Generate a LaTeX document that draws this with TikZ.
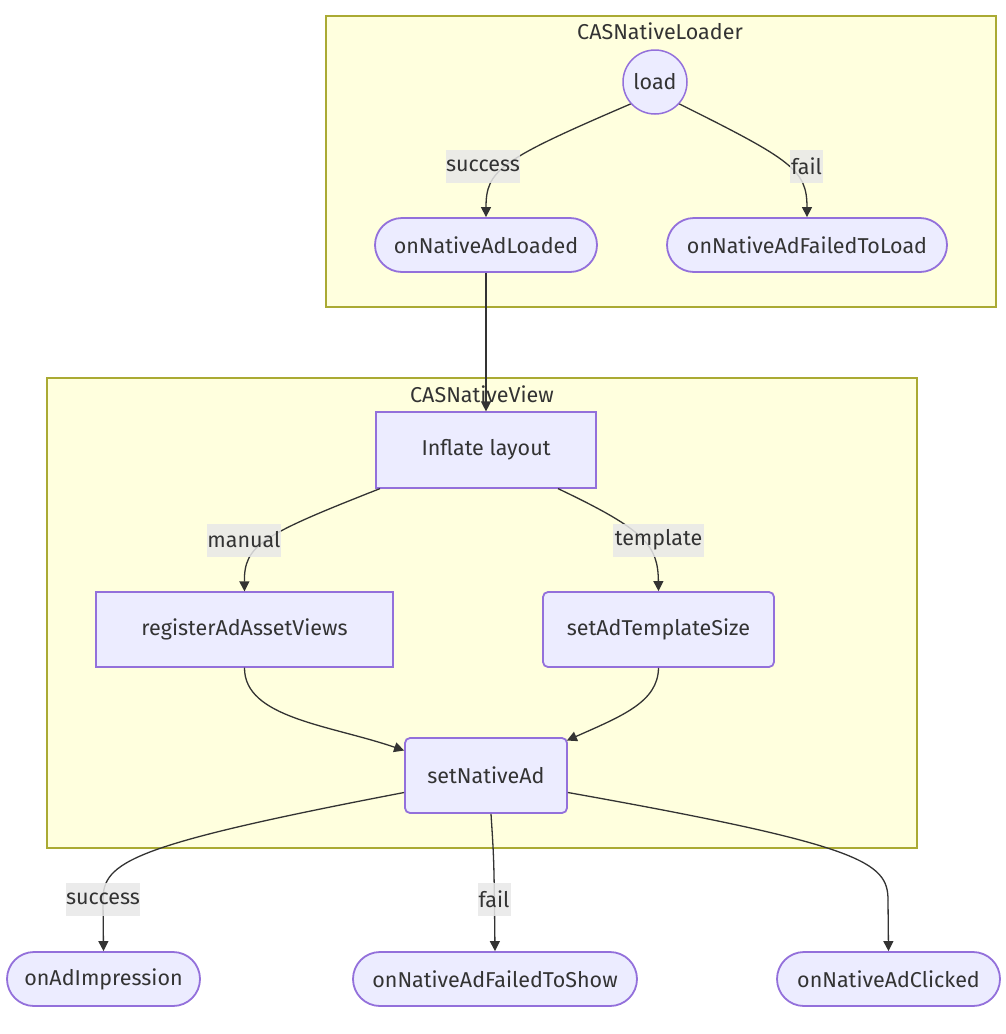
\documentclass[tikz,border=0pt]{standalone}
\usepackage{fontspec}
\setmainfont{Fira Sans}
\usetikzlibrary{arrows.meta}
\definecolor{clfill}{HTML}{FFFFDE}
\definecolor{cldraw}{HTML}{AAAA33}
\definecolor{ndfill}{HTML}{ECECFF}
\definecolor{nddraw}{HTML}{9370DB}
\definecolor{txt}{HTML}{333333}
\definecolor{lbl}{HTML}{E8E8E8}
\tikzset{
  cluster/.style={draw=cldraw, fill=clfill, line width=1.2pt},
  base/.style={draw=nddraw, fill=ndfill, text=txt, font=\fontsize{21.5}{24}\selectfont, inner sep=0pt},
  rectnode/.style={base, line width=1.2pt},
  roundnode/.style={base, line width=1.8pt, rounded corners=5pt},
  stadium/.style={base, line width=1.8pt, rounded corners=27pt, minimum height=54pt},
  circnode/.style={base, circle, line width=1.5pt, minimum size=64pt},
  ctitle/.style={text=txt, font=\fontsize{21.5}{24}\selectfont},
  elabel/.style={fill=lbl, fill opacity=0.85, text opacity=1, text=txt, font=\fontsize{21.5}{24}\selectfont, inner sep=0pt, minimum height=33pt},
  edge/.style={draw=txt, line width=1.3pt, -{Triangle[length=10pt,width=10pt]}},
  plain/.style={draw=txt, line width=1.3pt},
}
\begin{document}
\begin{tikzpicture}[x=1pt,y=-1pt]
\useasboundingbox (0,0) rectangle (1006,1034);
\fill[white] (0,0) rectangle (1006,1034);
% clusters
\draw[cluster] (326,16) rectangle (996,307);
\node[ctitle] (t1) at (660,31) {CASNativeLoader};
\draw[cluster] (47,378) rectangle (917,848);
\node[ctitle] (t2) at (482,394) {CASNativeView};
% nodes
\node[circnode] (load) at (655,82) {load};
\node[stadium, minimum width=222pt] (loaded) at (486,245) {onNativeAdLoaded};
\node[stadium, minimum width=280pt] (failload) at (807,245) {onNativeAdFailedToLoad};
\node[rectnode, minimum width=220pt, minimum height=76pt] (inflate) at (486,450) {Inflate layout};
\node[rectnode, minimum width=297pt, minimum height=75pt] (register) at (244.5,629.5) {registerAdAssetViews};
\node[roundnode, minimum width=231pt, minimum height=75pt] (template) at (658.5,629.5) {setAdTemplateSize};
\node[roundnode, minimum width=162pt, minimum height=75pt] (setad) at (486,775.5) {setNativeAd};
\node[stadium, minimum width=193pt] (impr) at (103.5,979) {onAdImpression};
\node[stadium, minimum width=284pt] (failshow) at (495,979) {onNativeAdFailedToShow};
\node[stadium, minimum width=223pt] (clicked) at (888.5,979) {onNativeAdClicked};
% edges
\draw[edge] (load.222) .. controls (500,160) and (486,170) .. (loaded.north);
\draw[edge] (load.318) .. controls (792,160) and (807,170) .. (failload.north);
\draw[edge] (loaded.south) -- (inflate.north);
\draw[edge] ([xshift=-106pt]inflate.south) .. controls (262,535) and (244,545) .. (register.north);
\draw[edge] ([xshift=72pt]inflate.south) .. controls (645,530) and (658,545) .. (template.north);
\draw[edge] (register.south) .. controls (244,718) and (330,725) .. ([yshift=25pt]setad.west);
\draw[edge] (template.south) .. controls (658,702) and (622,716) .. ([xshift=-1pt,yshift=35pt]setad.east);
\coordinate (c1) at (103,900);
\coordinate (c2) at (888,900);
\draw[plain] ([yshift=-17pt]setad.west) .. controls (130,845) and (103,862) .. (c1);
\draw[edge] (c1) -- (impr.north);
\draw[edge] ([xshift=5pt]setad.south) .. controls (494,860) .. (failshow.north);
\draw[plain] ([yshift=-17pt]setad.east) .. controls (862,845) and (888,862) .. (c2);
\draw[edge] (c2) -- (clicked.north);
% edge labels
\node[elabel, minimum width=68pt] (l1) at (483,166) {success};
\node[elabel, minimum width=33pt] (l2) at (806.5,166) {fail};
\node[elabel, minimum width=74pt] (l3) at (244,540) {manual};
\node[elabel, minimum width=91pt] (l4) at (658.5,540) {template};
\node[elabel, minimum width=74pt] (l5) at (103,899) {success};
\node[elabel, minimum width=33pt] (l6) at (494,899) {fail};
\end{tikzpicture}
\end{document}
